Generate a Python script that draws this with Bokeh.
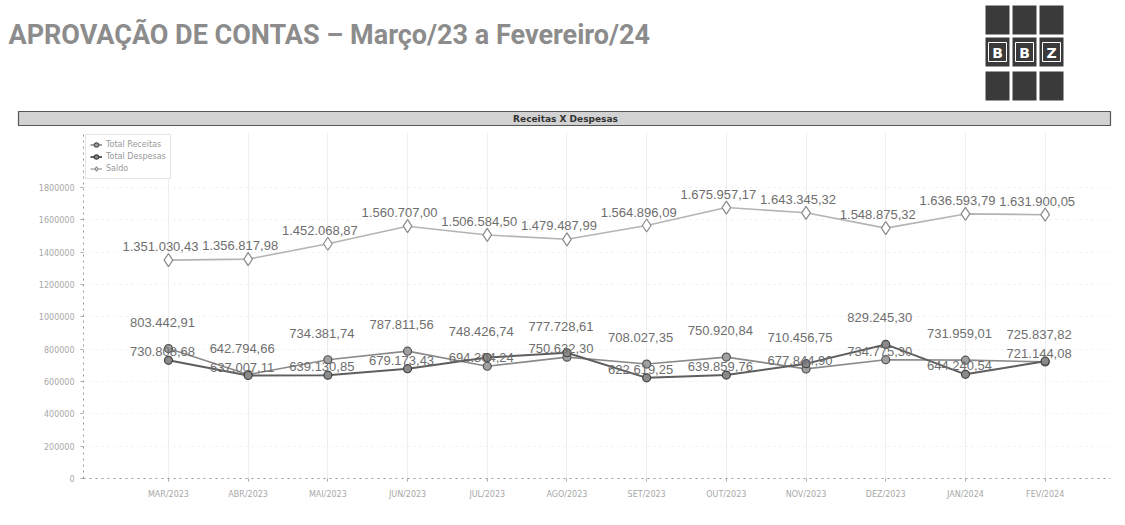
import numpy as np
from bokeh.plotting import figure
from bokeh.layouts import column
from bokeh.models import (Range1d, FixedTicker, NumeralTickFormatter, Legend,
                          LegendItem, ColumnDataSource)
from bokeh.core.properties import value
from bokeh.embed import file_html
from bokeh.resources import INLINE

# ---------------- data ----------------
months = ["MAR/2023", "ABR/2023", "MAI/2023", "JUN/2023", "JUL/2023", "AGO/2023",
          "SET/2023", "OUT/2023", "NOV/2023", "DEZ/2023", "JAN/2024", "FEV/2024"]
receitas = [803442.91, 642794.66, 734381.74, 787811.56, 694304.24, 750632.30,
            708027.35, 750920.84, 677844.90, 734775.30, 731959.01, 721144.08]
despesas = [730808.68, 637007.11, 639130.85, 679173.43, 748426.74, 777728.61,
            622619.25, 639859.76, 710456.75, 829245.30, 644240.54, 725837.82]
saldo = [1351030.43, 1356817.98, 1452068.87, 1560707.00, 1506584.50, 1479487.99,
         1564896.09, 1675957.17, 1643345.32, 1548875.32, 1636593.79, 1631900.05]
y_ticks = [0, 200000, 400000, 600000, 800000, 1000000, 1200000, 1400000,
           1600000, 1800000]
series_names = ["Total Receitas", "Total Despesas", "Saldo"]
page_title = "APROVAÇÃO DE CONTAS – Março/23 a Fevereiro/24"
chart_title = "Receitas X Despesas"
logo_letters = ["B", "B", "Z"]


def br(v):
    s = f"{v:,.2f}"
    return s.replace(",", "X").replace(".", ",").replace("X", ".")


W = 1125
LABEL_FONT = value("Liberation Sans")

# ---------------- header figure (title, logo, chart bar) ----------------
HH = 126
h = figure(width=W, height=HH, x_range=Range1d(0, W), y_range=Range1d(HH, 0),
           output_backend="svg", toolbar_location=None, min_border=0)
h.frame_align = False
h.axis.visible = False
h.grid.visible = False
h.outline_line_color = None

h.text(x=[8], y=[34], text=[page_title], text_font=value("Roboto"),
       text_font_style="bold", text_font_size="27px", text_color="#8c8c8c",
       text_baseline="middle", text_align="left")

# logo: 3x3 grid of dark squares, middle row with letters
col_l = [985, 1012, 1039]
row_t = [5, 37, 71]
sq_w, sq_h = 24, 29
for ri, t in enumerate(row_t):
    for ci, l in enumerate(col_l):
        h.quad(left=l, right=l + sq_w, top=t, bottom=t + sq_h,
               fill_color="#3a3a3a", line_color=None)
        if ri == 1:
            h.quad(left=l + 3, right=l + sq_w - 3, top=t + 5, bottom=t + sq_h - 5,
                   fill_color=None, line_color="white", line_width=1)
            h.text(x=[l + sq_w / 2], y=[t + sq_h / 2 + 1], text=[logo_letters[ci]],
                   text_font=value("DejaVu Sans"), text_font_style="bold",
                   text_font_size="14px", text_color="white",
                   text_align="center", text_baseline="middle")

# chart header bar
h.quad(left=18, right=1110, top=111, bottom=125, fill_color="#d2d2d2",
       line_color="#555555", line_width=1.2)
h.text(x=[565], y=[118], text=[chart_title], text_font=value("DejaVu Sans"),
       text_font_style="bold", text_font_size="9px", text_color="#333333",
       text_align="center", text_baseline="middle")

# ---------------- chart figure ----------------
CH = 399
frame_h = CH - 47 - 6
Y_TOP = 1800000 * frame_h / 291.0
x_idx = list(range(len(months)))

p = figure(width=W, height=CH, x_range=Range1d(-1.066, 11.82),
           y_range=Range1d(0, Y_TOP), output_backend="svg",
           toolbar_location=None, min_border_left=83, min_border_right=15,
           min_border_bottom=47, min_border_top=6)
p.frame_align = False
p.outline_line_color = None

p.yaxis.ticker = FixedTicker(ticks=y_ticks)
p.yaxis.formatter = NumeralTickFormatter(format="0")
p.xaxis.ticker = FixedTicker(ticks=x_idx)
p.xaxis.major_label_overrides = {i: m for i, m in enumerate(months)}
for ax in (p.xaxis, p.yaxis):
    ax.axis_line_color = "#999999"
    ax.axis_line_dash = "dotted"
    ax.major_tick_line_color = "#aaaaaa"
    ax.minor_tick_line_color = None
    ax.major_tick_in = 0
    ax.major_tick_out = 3
    ax.major_label_text_font = "DejaVu Sans"
    ax.major_label_text_font_size = "8px"
    ax.major_label_text_color = "#a8a8a8"
p.xaxis.major_label_standoff = 8
p.yaxis.major_label_standoff = 6
p.xgrid.grid_line_color = "#eeeeee"
p.ygrid.grid_line_color = "#eeeeee"
p.ygrid.grid_line_dash = "dotted"

src = ColumnDataSource(dict(
    x=x_idx, receitas=receitas, despesas=despesas, saldo=saldo,
    saldo_lbl=[br(v) for v in saldo],
    upper=list(np.maximum(receitas, despesas)),
    lower=list(np.minimum(receitas, despesas)),
    upper_lbl=[br(v) for v in np.maximum(receitas, despesas)],
    lower_lbl=[br(v) for v in np.minimum(receitas, despesas)],
))

l_rec = p.line("x", "receitas", source=src, line_color="#8a8a8a", line_width=1.6)
m_rec = p.scatter("x", "receitas", source=src, marker="circle", size=8,
                  fill_color="#a0a0a0", line_color="#555555", line_width=1.2)
l_des = p.line("x", "despesas", source=src, line_color="#5e5e5e", line_width=2)
m_des = p.scatter("x", "despesas", source=src, marker="circle", size=8,
                  fill_color="#8a8a8a", line_color="#444444", line_width=1.2)
l_sal = p.line("x", "saldo", source=src, line_color="#b4b4b4", line_width=1.6)
m_sal = p.scatter("x", "saldo", source=src, marker="diamond", size=13,
                  fill_color="white", line_color="#8a8a8a", line_width=1.2)

p.text("x", "saldo", text="saldo_lbl", source=src, text_font=LABEL_FONT,
       text_font_size="13px", text_color="#6e6e6e", text_align="center",
       text_baseline="bottom", y_offset=-9, x_offset=-8)
p.text("x", "upper", text="upper_lbl", source=src, text_font=LABEL_FONT,
       text_font_size="13px", text_color="#6e6e6e", text_align="center",
       text_baseline="bottom", y_offset=-22, x_offset=-6)
p.text("x", "lower", text="lower_lbl", source=src, text_font=LABEL_FONT,
       text_font_size="13px", text_color="#6e6e6e", text_align="center",
       text_baseline="bottom", y_offset=-4, x_offset=-6)

legend = Legend(items=[
    LegendItem(label=series_names[0], renderers=[l_rec, m_rec]),
    LegendItem(label=series_names[1], renderers=[l_des, m_des]),
    LegendItem(label=series_names[2], renderers=[l_sal, m_sal]),
], location="top_left", margin=2, padding=4, spacing=1,
   label_text_font_size="8px", label_text_color="#999999",
   label_text_font="DejaVu Sans", glyph_height=11, glyph_width=12,
   label_height=11, border_line_color="#cccccc", label_standoff=4)
p.add_layout(legend)

layout = column(h, p)
open("out.html", "w").write(file_html(layout, INLINE))
